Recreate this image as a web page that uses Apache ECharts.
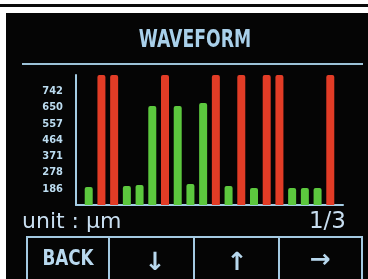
<!DOCTYPE html>
<html>
<head>
<meta charset="utf-8">
<script src="https://cdn.jsdelivr.net/npm/echarts@6/dist/echarts.min.js"></script>
<style>
  html, body { margin: 0; padding: 0; background: #ffffff; }
  #frame { position: relative; width: 368px; height: 279px; overflow: hidden; background: #ffffff; }
  #topline { position: absolute; left: 0; top: 4px; width: 368px; height: 3px; background: #0a0a0a; }
  #screen { position: absolute; left: 6px; top: 13px; width: 362px; height: 266px; background: #050505; }
  #chart { position: absolute; left: 0; top: 0; width: 368px; height: 279px; }
</style>
</head>
<body>
<div id="frame">
  <div id="topline"></div>
  <div id="screen"></div>
  <div id="chart"></div>
</div>
<script>
// bar positions (1..20) and measured values in µm
const positions = [1, 2, 3, 4, 5, 6, 7, 8, 9, 10, 11, 12, 13, 14, 15, 16, 17, 18, 19, 20];
const values = [196, 835, 835, 201, 207, 658, 835, 658, 213, 675, 835, 201, 835, 190, 835, 835, 190, 190, 190, 835];
const tickLabels = ['186', '278', '371', '464', '557', '650', '742'];
const step = 92.8125; // 742.5 / 8
const limit = 742;

const chart = echarts.init(document.getElementById('chart'), null, { renderer: 'canvas' });

const fg = '#a9d0ea';
const btn = '#b8d8ee';

chart.setOption({
  backgroundColor: 'transparent',
  animation: false,
  grid: { left: 76, right: 25, top: 75, bottom: 74 },
  xAxis: {
    type: 'value',
    min: 0,
    max: 21,
    axisLine: { show: true, onZero: false, lineStyle: { color: '#a4cce4', width: 2 } },
    axisTick: { show: false },
    axisLabel: { show: false },
    splitLine: { show: false }
  },
  yAxis: {
    type: 'value',
    min: step,
    max: step * 9,
    interval: step,
    axisLine: { show: true, lineStyle: { color: '#a4cce4', width: 2 } },
    axisTick: { show: false },
    splitLine: { show: false },
    axisLabel: {
      margin: 13,
      color: '#bcdcf0',
      fontFamily: 'DejaVu Sans Condensed',
      fontWeight: 'bold',
      fontSize: 11,
      formatter: function (v) {
        const i = Math.round(v / step) - 2;
        return tickLabels[i] !== undefined ? tickLabels[i] : '';
      }
    }
  },
  series: [{
    type: 'bar',
    barWidth: 8,
    data: positions.map((p, i) => ({
      value: [p, values[i]],
      itemStyle: {
        color: values[i] > limit ? '#e23c26' : '#5cc83e',
        borderRadius: [2, 2, 0, 0]
      }
    }))
  }],
  graphic: [
    {
      type: 'text', x: 195, y: 41, scaleX: 0.8,
      style: { text: 'WAVEFORM', fill: fg, font: 'bold 24px "DejaVu Sans Condensed"', align: 'center', verticalAlign: 'middle' }
    },
    { type: 'line', shape: { x1: 22, y1: 64, x2: 363, y2: 64 }, style: { stroke: '#9cc2d8', lineWidth: 2 } },
    {
      type: 'text', x: 22, y: 222,
      style: { text: 'unit : µm', fill: '#c8def0', font: '22px "DejaVu Sans"', verticalAlign: 'middle' }
    },
    {
      type: 'text', x: 346, y: 222,
      style: { text: '1/3', fill: '#c8def0', font: '23px "DejaVu Sans"', align: 'right', verticalAlign: 'middle' }
    },
    { type: 'rect', shape: { x: 27, y: 237, width: 335, height: 60 }, style: { fill: 'none', stroke: '#a4cae2', lineWidth: 2 } },
    { type: 'line', shape: { x1: 109, y1: 237, x2: 109, y2: 290 }, style: { stroke: '#a4cae2', lineWidth: 2 } },
    { type: 'line', shape: { x1: 194, y1: 237, x2: 194, y2: 290 }, style: { stroke: '#a4cae2', lineWidth: 2 } },
    { type: 'line', shape: { x1: 279, y1: 237, x2: 279, y2: 290 }, style: { stroke: '#a4cae2', lineWidth: 2 } },
    {
      type: 'text', x: 68, y: 259, scaleX: 0.85,
      style: { text: 'BACK', fill: btn, font: 'bold 22px "DejaVu Sans Condensed"', align: 'center', verticalAlign: 'middle' }
    },
    {
      type: 'text', x: 155, y: 263,
      style: { text: '↓', fill: btn, font: 'bold 25px "DejaVu Sans"', align: 'center', verticalAlign: 'middle' }
    },
    {
      type: 'text', x: 237, y: 263,
      style: { text: '↑', fill: btn, font: 'bold 25px "DejaVu Sans"', align: 'center', verticalAlign: 'middle' }
    },
    {
      type: 'text', x: 320, y: 260,
      style: { text: '→', fill: btn, font: 'bold 25px "DejaVu Sans"', align: 'center', verticalAlign: 'middle' }
    }
  ]
});
</script>
</body>
</html>
